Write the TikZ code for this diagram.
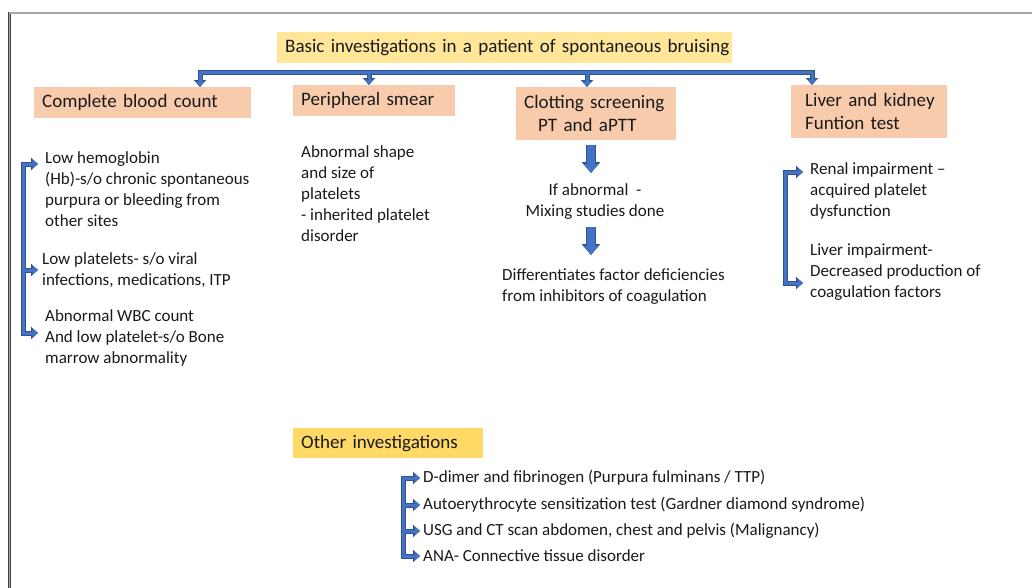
\documentclass[tikz,border=0pt]{standalone}
\usepackage{fontspec}
\setmainfont{Carlito}
\usetikzlibrary{arrows.meta,calc}
\definecolor{bfill}{HTML}{4472C4}
\definecolor{bedge}{HTML}{2F528F}
\definecolor{ttl}{HTML}{FFE699}
\definecolor{peach}{HTML}{F8CBAD}
\definecolor{oth}{HTML}{FFD966}
\definecolor{txt}{HTML}{1A1A1A}
\newcommand\twopass[1]{%
  \begin{scope}[
    arr/.style={draw=bedge, line width=5pt, -{Triangle[width=12pt,length=7pt]}},
    barr/.style={draw=bedge, line width=10pt, -{Triangle[width=18pt,length=11pt]}},
    bar/.style={draw=bedge, line width=5pt, line cap=rect}]
    #1
  \end{scope}
  \begin{scope}[
    arr/.style={draw=bfill, line width=3pt, -{Triangle[width=9pt,length=5.5pt]}},
    barr/.style={draw=bfill, line width=7.5pt, -{Triangle[width=14.5pt,length=9pt]}},
    bar/.style={draw=bfill, line width=3pt, line cap=rect}]
    #1
  \end{scope}}
\begin{document}
\begin{tikzpicture}[x=1pt,y=-1pt,
  body/.style={font=\fontsize{17}{21}\selectfont, align=left, inner sep=0pt, anchor=west, text=txt},
  head/.style={font=\fontsize{19}{23}\selectfont, align=left, inner xsep=8pt, inner ysep=0pt, anchor=north west, text=txt},
]
\useasboundingbox (0,0) rectangle (1032,587);
\fill[white] (0,0) rectangle (1032,587);
% frame
\draw[draw=black!75, double=black!35, double distance=1.2pt, line width=0.8pt] (9.5,600) -- (9.5,13) -- (1045,13);

% heading boxes
\node[head, fill=ttl, text width=439pt, minimum height=31pt] (title) at (277,32) {\mbox{Basic investigations in a patient of spontaneous bruising}};
\node[head, fill=peach, text width=201pt, minimum height=31pt] (cbc) at (34,87) {\mbox{Complete blood count}};
\node[head, fill=peach, text width=146pt, minimum height=31pt] (ps) at (293,85) {\mbox{Peripheral smear}};
\node[head, fill=peach, text width=144pt, minimum height=53pt] (clot) at (516,87) {\mbox{Clotting screening}\\\mbox{\hspace*{14pt}PT and aPTT}};
\node[head, fill=peach, inner xsep=14pt, text width=128pt, minimum height=53pt] (lk) at (791,85) {\mbox{Liver and kidney}\\\mbox{Funtion test}};
\node[head, fill=oth, text width=174pt, minimum height=30pt] (other) at (293,428) {\mbox{Other investigations}};

% body texts
\node[body] (t1) at (45,189) {Low hemoglobin\\(Hb)-s/o chronic spontaneous\\purpura or bleeding from\\other sites};
\node[body] (t2) at (42,270.5) {Low platelets- s/o viral\\infections, medications, ITP};
\node[body] (t3) at (45,338) {Abnormal WBC count\\And low platelet-s/o Bone\\marrow abnormality};
\node[body] (ps1) at (301,193.5) {Abnormal shape\\and size of\\platelets\\- inherited platelet\\disorder};
\node[body, align=center, anchor=center] (ifab) at (595,202) {If abnormal\ \ -\\Mixing studies done};
\node[body] (diff) at (502,286.5) {Differentiates factor deficiencies\\from inhibitors of coagulation};
\node[body] (ren) at (810,190.5) {Renal impairment –\\acquired platelet\\dysfunction};
\node[body] (liv) at (810,272.5) {Liver impairment-\\Decreased production of\\coagulation factors};
\node[body] (o1) at (423,478) {D-dimer and fibrinogen (Purpura fulminans / TTP)};
\node[body] (o2) at (423,505) {Autoerythrocyte sensitization test (Gardner diamond syndrome)};
\node[body] (o3) at (423,531) {USG and CT scan abdomen, chest and pelvis (Malignancy)};
\node[body] (o4) at (423,556) {ANA- Connective tissue disorder};

% coordinates for connectors
\coordinate (s1) at (200,72);
\coordinate (s2) at (369,72);
\coordinate (s3) at (587,72);
\coordinate (s4) at (812,72);
\coordinate (k1) at (23,164);
\coordinate (k2) at (23,270);
\coordinate (k3) at (23,333);
\coordinate (m1) at (785,172);
\coordinate (m2) at (785,283);
\coordinate (n1) at (403,478);
\coordinate (n2) at (403,505);
\coordinate (n3) at (403,531);
\coordinate (n4) at (403,556);
\coordinate (ax) at (591,0);

\twopass{
  \draw[bar] (s1) -- (s4);
  \draw[arr] (s1) -- (s1 |- cbc.north);
  \draw[arr] (s2) -- (s2 |- ps.north);
  \draw[arr] (s3) -- (s3 |- clot.north);
  \draw[arr] (s4) -- (s4 |- lk.north);
  \draw[bar] (k1) -- (k3);
  \draw[arr, shorten >=7pt] (k1) -- (k1 -| t1.west);
  \draw[arr, shorten >=4pt] (k2) -- (k2 -| t2.west);
  \draw[arr, shorten >=7pt] (k3) -- (k3 -| t3.west);
  \draw[bar] (m1) -- (m2);
  \draw[arr, shorten >=7pt] (m1) -- (m1 -| ren.west);
  \draw[arr, shorten >=7pt] (m2) -- (m2 -| liv.west);
  \draw[bar] (n1) -- (n4);
  \draw[arr, shorten >=3pt] (n1) -- (n1 -| o1.west);
  \draw[arr, shorten >=3pt] (n2) -- (n2 -| o2.west);
  \draw[arr, shorten >=3pt] (n3) -- (n3 -| o3.west);
  \draw[arr, shorten >=3pt] (n4) -- (n4 -| o4.west);
  \draw[barr, shorten <=5pt] (clot.south -| ax) -- (ax |- 0,173);
  \draw[barr] (ax |- 0,227) -- (ax |- 0,255);
}
\end{tikzpicture}
\end{document}
